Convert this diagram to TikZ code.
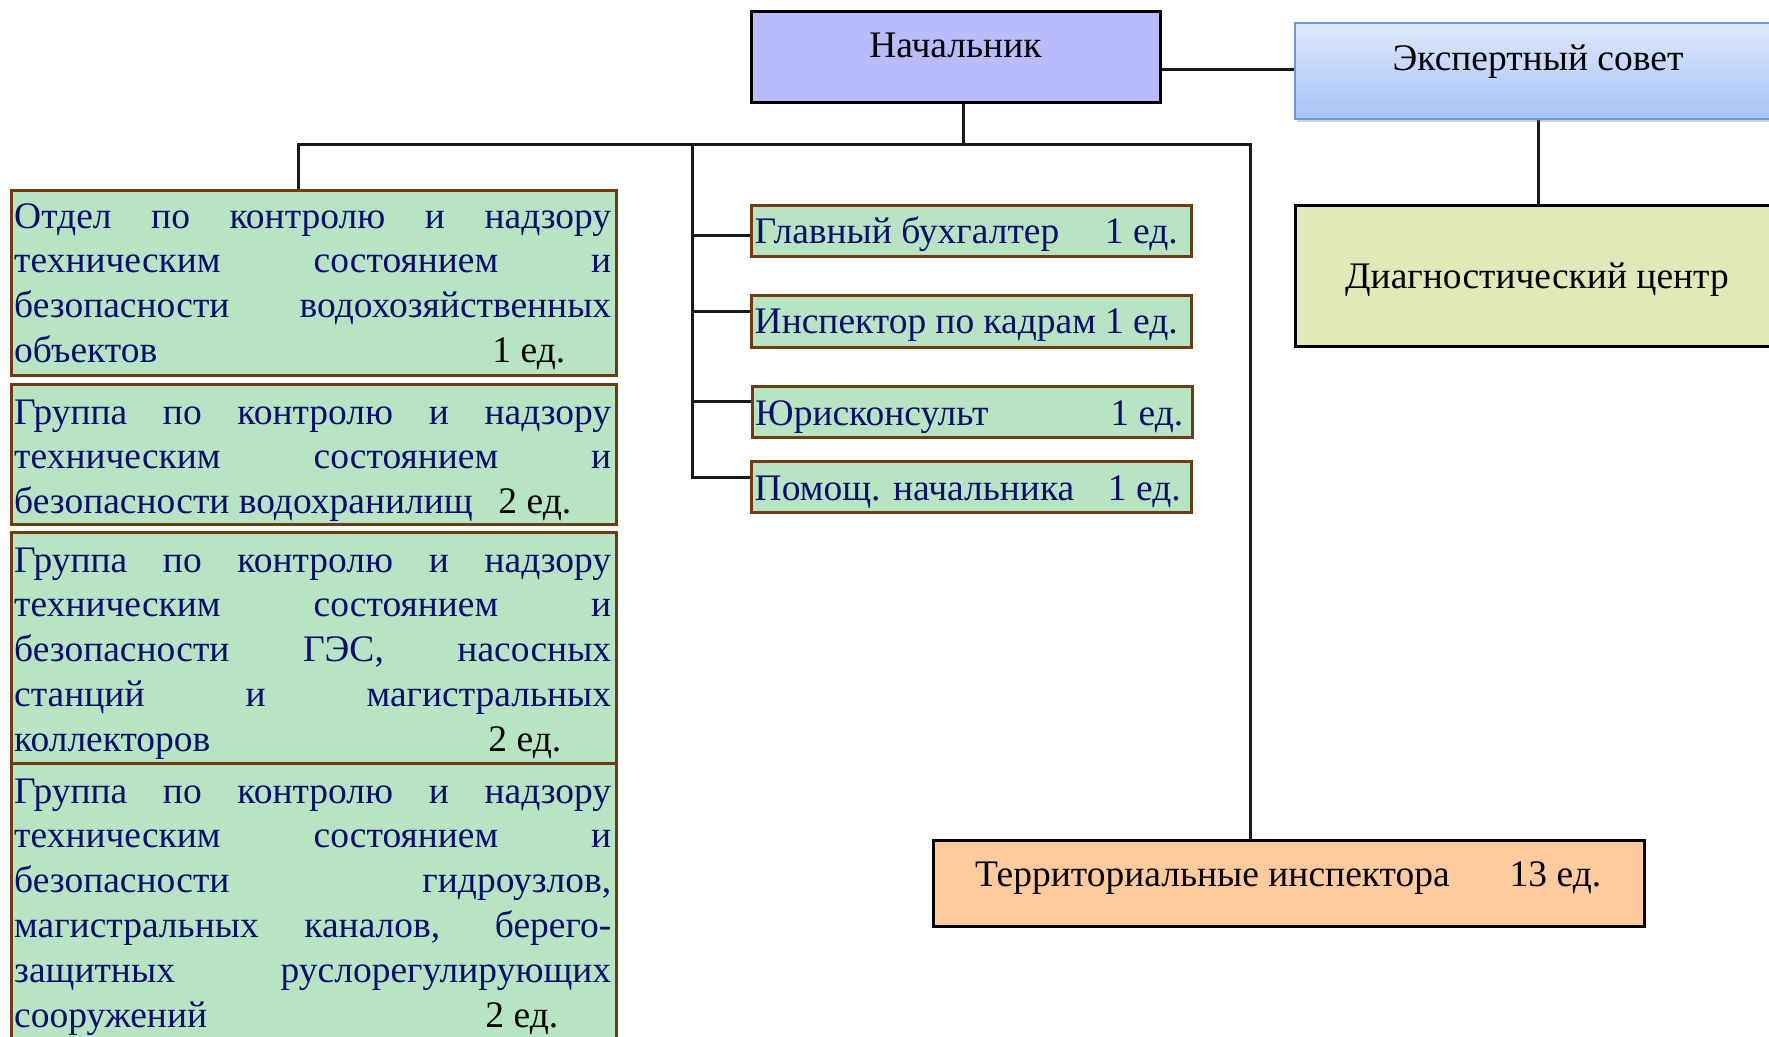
\documentclass[tikz,border=0pt]{standalone}
\usepackage{fontspec}
\setmainfont{Liberation Serif}
\usetikzlibrary{shadows,calc}
\definecolor{nachfill}{RGB}{185,187,251}
\definecolor{gfill}{RGB}{183,229,195}
\definecolor{gborder}{RGB}{110,59,18}
\definecolor{navy}{RGB}{13,13,110}
\definecolor{ekspTop}{RGB}{222,233,252}
\definecolor{ekspBot}{RGB}{165,195,247}
\definecolor{ekspBorder}{RGB}{112,151,216}
\definecolor{diagfill}{RGB}{227,232,184}
\definecolor{terrfill}{RGB}{255,203,156}
\pgfdeclarelayer{paper}
\pgfdeclarelayer{background}
\pgfsetlayers{paper,background,main}
\newcommand{\JLn}[1]{\makebox[597pt][s]{\strut #1}}
\newcommand{\JLast}[3]{\makebox[597pt][s]{\strut #1\hfill\textcolor{black}{#2}\hspace{#3pt}}}
\begin{document}
\begin{tikzpicture}[x=1pt,y=-1pt,
  every node/.style={font=\fontsize{37.5}{44.8}\selectfont},
  conn/.style={line width=3pt, black!90},
  boxbase/.style={inner sep=0pt, outer sep=0pt, anchor=north west, line width=3pt},
  gbox/.style={boxbase, draw=gborder, fill=gfill},
  bbox/.style={boxbase, draw=black},
  txt/.style={inner sep=0pt, text=black},
  gtxt/.style={inner sep=0pt, text=navy, anchor=base west}]
\clip (0,0) rectangle (1769,1036);
\begin{pgfonlayer}{paper}
\fill[white] (0,0) rectangle (1769,1036);
\end{pgfonlayer}

% boxes
\node[bbox, fill=nachfill, minimum width=409pt, minimum height=91pt] (nach) at (751,11) {};
\node[boxbase, line width=2pt, draw=ekspBorder, top color=ekspTop, bottom color=ekspBot,
      drop shadow={shadow xshift=2pt, shadow yshift=-3pt, opacity=0.35},
      minimum width=486pt, minimum height=96pt] (eksp) at (1295,23) {};
\node[bbox, fill=diagfill, minimum width=486pt, minimum height=141pt] (diag) at (1295,205) {};
\node[bbox, fill=terrfill, minimum width=711pt, minimum height=86pt] (terr) at (933,840) {};

\node[gbox, minimum width=605pt, minimum height=185pt] (b1) at (11,190) {};
\node[gbox, minimum width=605pt, minimum height=140pt] (b2) at (11,384) {};
\node[gbox, minimum width=605pt, minimum height=231pt] (b3) at (11,532) {};
\node[gbox, minimum width=605pt, minimum height=283pt] (b4) at (11,763) {};

\node[gbox, minimum width=440pt, minimum height=51pt] (glav) at (751,205) {};
\node[gbox, minimum width=440pt, minimum height=52pt] (insp) at (751,295) {};
\node[gbox, minimum width=440pt, minimum height=51pt] (jur) at (752,386) {};
\node[gbox, minimum width=440pt, minimum height=51pt] (pom) at (751,461) {};

% texts
\node[txt, anchor=base] (nachT) at (955.5,57) {Начальник};
\node[txt, anchor=base] (ekspT) at (1538,70) {Экспертный совет};
\node[txt, anchor=base] (diagT) at (1537,288) {Диагностический центр};
\node[txt, anchor=base west] (terrT) at (975,886) {\makebox[626pt][s]{Территориальные инспектора\hfill 13 ед.}};

\node[gtxt] (glavT) at (754.5,243) {\makebox[423pt][s]{Главный бухгалтер\hfill 1 ед.}};
\node[gtxt] (inspT) at (754.5,333) {\makebox[423pt][s]{Инспектор по кадрам 1 ед.}};
\node[gtxt] (jurT) at (755,425) {\makebox[428pt][s]{Юрисконсульт\hfill 1 ед.}};
\node[gtxt] (pomT) at (754.5,500) {\makebox[426pt][s]{Помощ. начальника\hfill 1 ед.}};

\node[gtxt] (t1) at (14,228) {\parbox[t]{597pt}{%
\JLn{Отдел по контролю и надзору}\\
\JLn{техническим состоянием и}\\
\JLn{безопасности водохозяйственных}\\
\JLast{объектов}{1 ед.}{46}}};
\node[gtxt] (t2) at (14,424) {\parbox[t]{597pt}{%
\JLn{Группа по контролю и надзору}\\
\JLn{техническим состоянием и}\\
\JLast{безопасности водохранилищ}{2 ед.}{40}}};
\node[gtxt] (t3) at (14,572) {\parbox[t]{597pt}{%
\JLn{Группа по контролю и надзору}\\
\JLn{техническим состоянием и}\\
\JLn{безопасности ГЭС, насосных}\\
\JLn{станций и магистральных}\\
\JLast{коллекторов}{2 ед.}{50}}};
\node[gtxt] (t4) at (14,803) {\parbox[t]{597pt}{%
\JLn{Группа по контролю и надзору}\\
\JLn{техническим состоянием и}\\
\JLn{безопасности гидроузлов,}\\
\JLn{магистральных каналов, берего-}\\
\JLn{защитных руслорегулирующих}\\
\JLast{сооружений}{2 ед.}{53}}};

% connectors
\coordinate (busN) at (963,144);
\coordinate (busL) at (298,144);
\coordinate (busM) at (692,144);
\coordinate (busR) at (1250,144);
\coordinate (glC) at ([yshift=-4.5pt]glav.west);
\coordinate (inC) at ([yshift=10pt]insp.west);
\coordinate (juC) at ([yshift=10.5pt]jur.west);
\coordinate (poC) at ([yshift=9.5pt]pom.west);
\coordinate (ekC) at ([yshift=2pt]eksp.west);
\begin{pgfonlayer}{background}
\draw[conn] (ekC) -- (ekC -| nach.east);
\draw[conn] (nach.south -| busN) -- (busN);
\draw[conn] (busL |- b1.north) -- (busL) -- (busR) -- (busR |- terr.north);
\draw[conn] (busM) |- (poC);
\draw[conn] (glC -| busM) -- (glC);
\draw[conn] (inC -| busM) -- (inC);
\draw[conn] (juC -| busM) -- (juC);
\draw[conn] (eksp.south) -- (diag.north);
\end{pgfonlayer}
\end{tikzpicture}
\end{document}
